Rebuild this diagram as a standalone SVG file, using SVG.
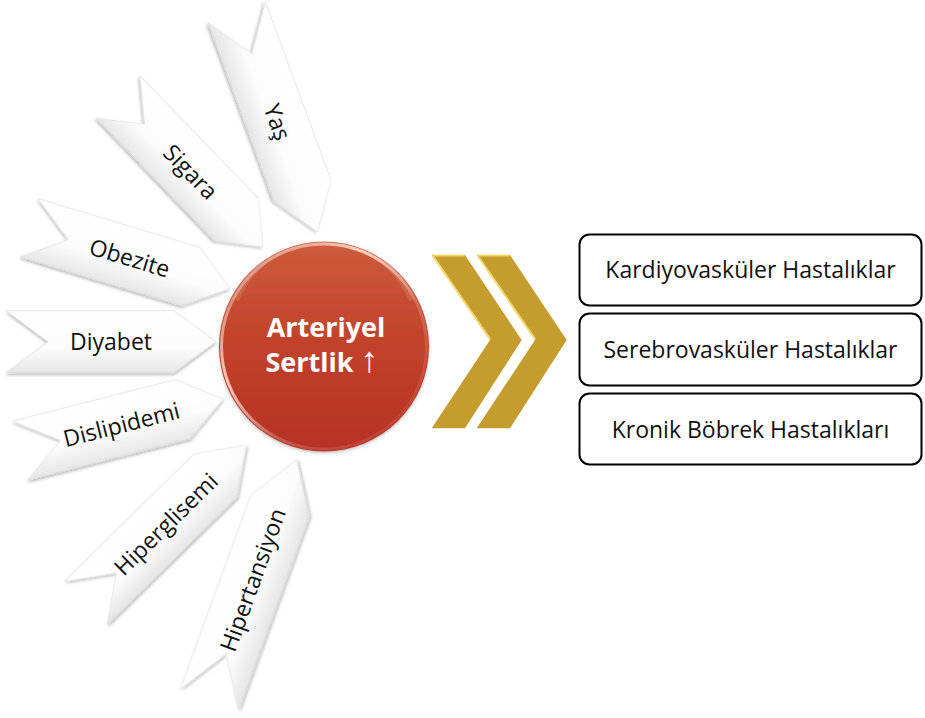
<svg xmlns="http://www.w3.org/2000/svg" width="925" height="718" viewBox="0 0 925 718">
  <defs>
    <linearGradient id="arrowFill" x1="0" y1="0" x2="0" y2="1">
      <stop offset="0" stop-color="#ffffff"/>
      <stop offset="0.6" stop-color="#fcfcfc"/>
      <stop offset="1" stop-color="#e6e6e6"/>
    </linearGradient>
    <linearGradient id="circleFill" x1="0" y1="0" x2="0" y2="1">
      <stop offset="0" stop-color="#cd5c3d"/>
      <stop offset="0.5" stop-color="#c1412a"/>
      <stop offset="1" stop-color="#b63224"/>
    </linearGradient>
    <linearGradient id="rimGrad" x1="0" y1="0" x2="1" y2="1">
      <stop offset="0" stop-color="#ffffff" stop-opacity="0"/>
      <stop offset="0.35" stop-color="#ffd8c8" stop-opacity="0.9"/>
      <stop offset="0.6" stop-color="#ffffff" stop-opacity="0.2"/>
      <stop offset="1" stop-color="#ffffff" stop-opacity="0"/>
    </linearGradient>
    <filter id="sh" x="-20%" y="-20%" width="140%" height="150%">
      <feDropShadow dx="0" dy="2" stdDeviation="1.6" flood-color="#000" flood-opacity="0.28"/>
    </filter>
    <filter id="csh" x="-20%" y="-20%" width="140%" height="140%">
      <feDropShadow dx="0" dy="1.5" stdDeviation="1.5" flood-color="#000" flood-opacity="0.25"/>
    </filter>
  </defs>
  <style>
    .arrow { fill: url(#arrowFill); stroke: #d6d6d6; stroke-width: 0.6; filter: url(#sh); }
    .lbl { font-family: "Open Sans", "Liberation Sans", sans-serif; font-size: 23px; fill: #111; text-anchor: middle; }
    .box { fill: #fff; stroke: #000; stroke-width: 2; }
    .ctext { font-family: "Open Sans", "Liberation Sans", sans-serif; font-size: 27px; font-weight: bold; fill: #fff; text-anchor: middle; }
    .up { font-family: "Liberation Sans", "DejaVu Sans", sans-serif; font-weight: normal; font-size: 36px; fill: #fff; }
    .gold { fill: #c49d2e; }
    .bevel { fill: none; stroke: #f4d766; stroke-width: 2; stroke-linejoin: round; }
  </style>
  <rect width="925" height="718" fill="#fff"/>

  <g id="factor-yas" transform="translate(277.2,122.2) rotate(69.8)">
    <polygon class="arrow" points="-117,-30.5 73,-30.5 117,0 73,30.5 -117,30.5 -73,0"/>
    <text class="lbl" x="0" y="0" dy="0.35em">Yaş</text>
  </g>
  <g id="factor-sigara" transform="translate(190.5,172) rotate(46)">
    <polygon class="arrow" points="-104.25,-30.5 66.25,-30.5 104.25,0 66.25,30.5 -104.25,30.5 -66.25,0"/>
    <text class="lbl" x="0" y="0" dy="0.35em">Sigara</text>
  </g>
  <g id="factor-obezite" transform="translate(129.6,258.1) rotate(16.8)">
    <polygon class="arrow" points="-105,-30.5 64,-30.5 105,0 64,30.5 -105,30.5 -64,0"/>
    <text class="lbl" x="0" y="0" dy="0.35em">Obezite</text>
  </g>
  <g id="factor-diyabet" transform="translate(111,341.7)">
    <polygon class="arrow" points="-105,-31 63,-31 105,0 63,31 -105,31 -63,0"/>
    <text class="lbl" x="0" y="0" dy="0.35em">Diyabet</text>
  </g>
  <g id="factor-dislipidemi" transform="translate(121.5,424.8) rotate(-14.3)">
    <polygon class="arrow" points="-105,-30.5 63,-30.5 105,0 63,30.5 -105,30.5 -63,0"/>
    <text class="lbl" x="0" y="0" dy="0.35em">Dislipidemi</text>
  </g>
  <g id="factor-hiperglisemi" transform="translate(166,524.3) rotate(-44.5)">
    <polygon class="arrow" points="-112.5,-30.5 69.5,-30.5 112.5,0 69.5,30.5 -112.5,30.5 -69.5,0"/>
    <text class="lbl" x="0" y="0" dy="0.35em">Hiperglisemi</text>
  </g>
  <g id="factor-hipertansiyon" transform="translate(253,579.9) rotate(-70)">
    <polygon class="arrow" points="-127.8,-31 78.8,-31 127.8,0 78.8,31 -127.8,31 -78.8,0"/>
    <text class="lbl" x="0" y="0" dy="0.35em">Hipertansiyon</text>
  </g>

  <g id="center-arterial-stiffness">
    <circle cx="324" cy="346.5" r="105" fill="url(#circleFill)" filter="url(#csh)"/>
    <circle cx="324" cy="346.5" r="102.5" fill="none" stroke="url(#rimGrad)" stroke-width="3"/>
    <path d="M 236 300 A 95 95 0 0 1 412 300" fill="none" stroke="#ffffff" stroke-opacity="0.12" stroke-width="6"/>
    <text class="ctext" x="326" y="336.7">Arteriyel</text>
    <text class="ctext" x="322" y="371.7">Sertlik <tspan class="up">↑</tspan></text>
  </g>

  <g id="connectors">
    <g id="chevron-1">
      <polygon class="gold" points="431.7,255 465,255 521.7,340 465,428.3 431.7,428.3 490,340"/>
      <polyline class="bevel" points="432.5,255.5 464.5,255.5"/>
      <polyline class="bevel" points="433,256 490,339"/>
    </g>
    <g id="chevron-2">
      <polygon class="gold" points="476.7,255 510,255 566.7,340 510,428.3 476.7,428.3 535,340"/>
      <polyline class="bevel" points="477.5,255.5 509.5,255.5"/>
      <polyline class="bevel" points="478,256 535,339"/>
    </g>
  </g>

  <g id="outcome-kardiyovaskuler">
    <rect class="box" x="579.5" y="234.5" width="342" height="71" rx="10"/>
    <text class="lbl" x="750.5" y="278.3">Kardiyovasküler Hastalıklar</text>
  </g>
  <g id="outcome-serebrovaskuler">
    <rect class="box" x="579.5" y="313.5" width="342" height="72" rx="10"/>
    <text class="lbl" x="750.5" y="357.7">Serebrovasküler Hastalıklar</text>
  </g>
  <g id="outcome-bobrek">
    <rect class="box" x="579.5" y="393.5" width="342" height="71" rx="10"/>
    <text class="lbl" x="750.5" y="438.3">Kronik Böbrek Hastalıkları</text>
  </g>
</svg>
